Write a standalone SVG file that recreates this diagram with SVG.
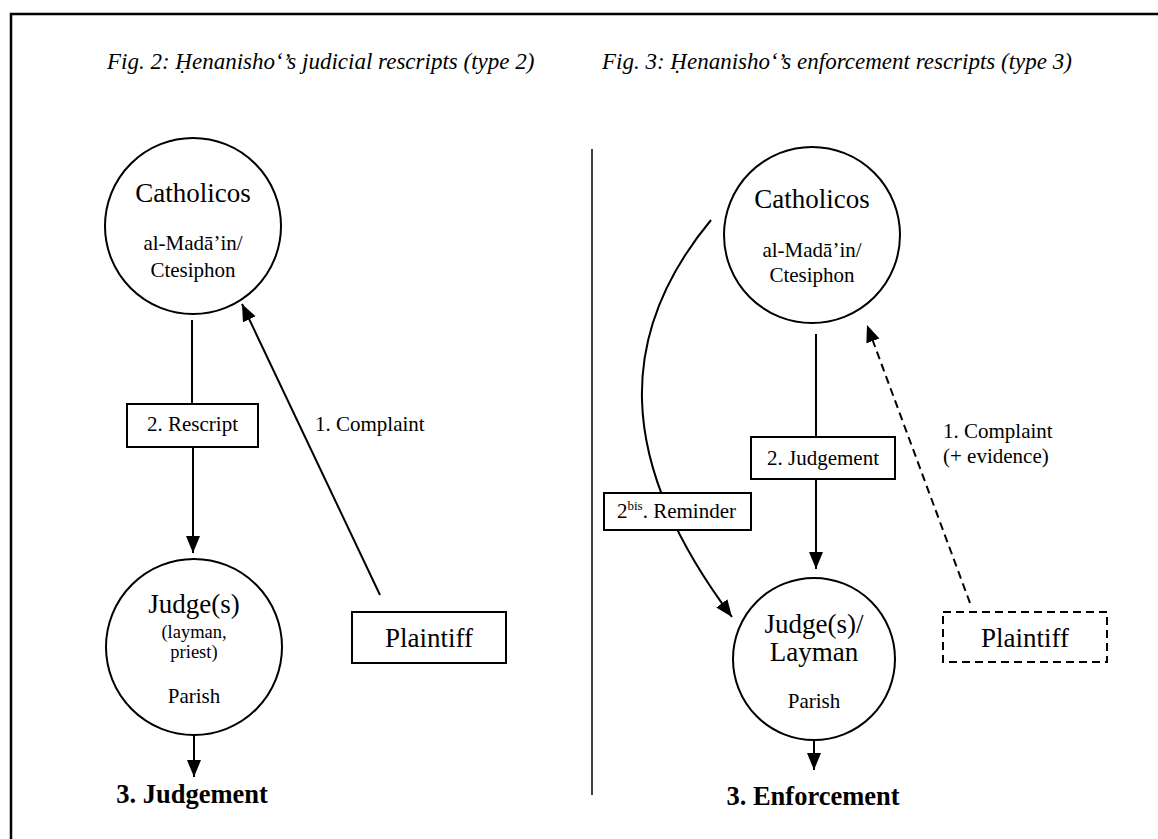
<svg xmlns="http://www.w3.org/2000/svg" width="1158" height="839" viewBox="0 0 1158 839">
<style>
text{font-family:"Liberation Serif","Times New Roman",serif;fill:#000}
.t{font-size:23px;font-style:italic}
.big{font-size:27px;text-anchor:middle}
.mid{font-size:21px;text-anchor:middle}
.sm{font-size:18.5px;text-anchor:middle}
.lab{font-size:21px}
.bold{font-size:26.5px;font-weight:bold;text-anchor:middle}
.node{fill:#fff;stroke:#000;stroke-width:2}
.ln{fill:none;stroke:#000;stroke-width:2}
.dash{stroke-dasharray:8 5}
</style>
<defs>
<marker id="ah" markerUnits="userSpaceOnUse" markerWidth="18" markerHeight="15" refX="17" refY="7" orient="auto">
<path d="M0,0 L17,7 L0,14 z" fill="#000"/>
</marker>
</defs>
<rect width="1158" height="839" fill="#fff"/>
<path d="M11,839 V14 H1158" fill="none" stroke="#000" stroke-width="2.5"/>
<text class="t" x="107" y="69">Fig. 2: Ḥenanisho‘’s judicial rescripts (type 2)</text>
<text class="t" x="602" y="69">Fig. 3: Ḥenanisho‘’s enforcement rescripts (type 3)</text>
<line x1="592" y1="149" x2="592" y2="795" stroke="#000" stroke-width="1.5"/>

<g id="connectors">
<line class="ln" x1="192" y1="320" x2="192" y2="404"/>
<line class="ln" x1="193" y1="447" x2="193" y2="553" marker-end="url(#ah)"/>
<line class="ln" x1="194" y1="735" x2="194" y2="777" marker-end="url(#ah)"/>
<line class="ln" x1="380" y1="595" x2="242" y2="304" marker-end="url(#ah)"/>
<line class="ln" x1="816" y1="334" x2="816" y2="437"/>
<line class="ln" x1="816" y1="479" x2="816" y2="569" marker-end="url(#ah)"/>
<line class="ln" x1="814" y1="740" x2="814" y2="770" marker-end="url(#ah)"/>
<path class="ln" d="M711,220 C619,331 612,457 732,617" marker-end="url(#ah)"/>
<line class="ln dash" x1="970" y1="603" x2="867" y2="325" marker-end="url(#ah)"/>
<text class="lab" x="315" y="431">1. Complaint</text>
<text class="lab" x="943" y="438">1. Complaint</text>
<text class="lab" x="943" y="463">(+ evidence)</text>
</g>

<g id="rescript-box">
<rect class="node" x="127" y="404" width="131" height="43"/>
<text class="mid" x="192.5" y="431">2. Rescript</text>
</g>
<g id="judgement-box">
<rect class="node" x="751" y="437" width="144" height="42"/>
<text class="mid" x="823" y="465">2. Judgement</text>
</g>
<g id="reminder-box">
<rect class="node" x="604" y="493" width="147" height="37"/>
<text class="lab" x="617" y="518">2<tspan font-size="13" dy="-8">bis</tspan><tspan dy="8">. Reminder</tspan></text>
</g>

<g id="catholicos-2">
<circle class="node" cx="193" cy="226" r="88"/>
<text class="big" x="193" y="202">Catholicos</text>
<text class="mid" x="193" y="250">al-Madā’in/</text>
<text class="mid" x="193" y="277">Ctesiphon</text>
</g>
<g id="judge-2">
<circle class="node" cx="194" cy="647" r="88"/>
<text class="big" x="194" y="613">Judge(s)</text>
<text class="sm" x="194" y="638">(layman,</text>
<text class="sm" x="194" y="658">priest)</text>
<text class="mid" x="194" y="703">Parish</text>
</g>
<g id="judgement-2">
<text class="bold" x="192" y="803">3. Judgement</text>
</g>
<g id="plaintiff-2">
<rect class="node" x="352" y="612" width="154" height="51"/>
<text class="big" x="429" y="647">Plaintiff</text>
</g>

<g id="catholicos-3">
<circle class="node" cx="812" cy="235" r="88"/>
<text class="big" x="812" y="208">Catholicos</text>
<text class="mid" x="812" y="257">al-Madā’in/</text>
<text class="mid" x="812" y="282">Ctesiphon</text>
</g>
<g id="judge-3">
<circle class="node" cx="814" cy="659" r="81"/>
<text class="big" x="814" y="633" font-size="26">Judge(s)/</text>
<text class="big" x="814" y="661" font-size="26">Layman</text>
<text class="mid" x="814" y="708">Parish</text>
</g>
<g id="enforcement-3">
<text class="bold" x="813" y="805">3. Enforcement</text>
</g>
<g id="plaintiff-3">
<rect class="node dash" x="943" y="612" width="164" height="50"/>
<text class="big" x="1025" y="647">Plaintiff</text>
</g>
</svg>
